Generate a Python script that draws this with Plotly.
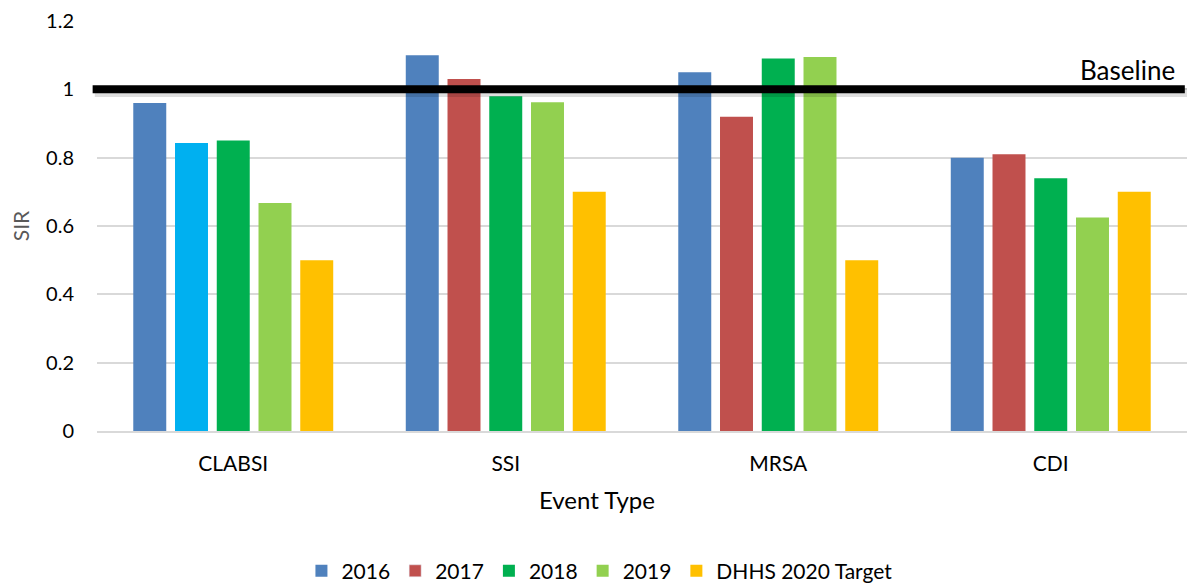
import plotly.graph_objects as go

categories = ["CLABSI", "SSI", "MRSA", "CDI"]
series_names = ["2016", "2017", "2018", "2019", "DHHS 2020 Target"]
v2016 = [0.96, 1.10, 1.05, 0.80]
v2017 = [0.843, 1.03, 0.92, 0.81]
v2018 = [0.85, 0.98, 1.09, 0.74]
v2019 = [0.667, 0.962, 1.095, 0.625]
vtarget = [0.50, 0.70, 0.50, 0.70]
baseline_value = 1.0
y_ticks = [0, 0.2, 0.4, 0.6, 0.8, 1, 1.2]
y_tick_text = ["0", "0.2", "0.4", "0.6", "0.8", "1", "1.2"]

colors = ["#4F81BD", "#C0504D", "#00B050", "#92D050", "#FFC000"]
colors_2017 = ["#00B0F0", "#C0504D", "#C0504D", "#C0504D"]

FONT = "Lato, Carlito, 'Open Sans', sans-serif"

fig = go.Figure()
all_vals = [v2016, v2017, v2018, v2019, vtarget]
for i, (name, vals) in enumerate(zip(series_names, all_vals)):
    mc = colors_2017 if name == "2017" else colors[i]
    fig.add_trace(go.Bar(
        x=categories, y=vals, name=name, offsetgroup=str(i),
        marker=dict(color=mc, line=dict(width=0)),
        showlegend=(name != "2017"), legendrank=i + 1,
    ))
# legend entry for 2017 in its regular red colour (shares the 2017 slot)
fig.add_trace(go.Bar(x=[categories[0]], y=[None], name="2017", offsetgroup="1",
                     marker=dict(color=colors[1]), legendrank=2, showlegend=True))

# baseline shadow + line
fig.add_shape(type="line", xref="paper", yref="y", x0=-0.002, x1=1.0,
              y0=baseline_value - 0.009, y1=baseline_value - 0.009,
              line=dict(color="rgba(0,0,0,0.13)", width=9))
fig.add_shape(type="line", xref="paper", yref="y", x0=-0.004, x1=0.998,
              y0=baseline_value, y1=baseline_value,
              line=dict(color="black", width=8))
fig.add_annotation(x=0.991, y=baseline_value, xref="paper", yref="y",
                   text="Baseline", showarrow=False, xanchor="right", yanchor="bottom",
                   yshift=1, font=dict(family=FONT, size=26, color="black"))
fig.add_annotation(x=0.459, y=-0.168, xref="paper", yref="paper",
                   text="Event Type", showarrow=False, xanchor="center", yanchor="middle",
                   font=dict(family=FONT, size=24, color="black"))

fig.update_layout(
    width=1187, height=584,
    margin=dict(l=97, r=0, t=21, b=153),
    paper_bgcolor="white", plot_bgcolor="white",
    barmode="group", bargap=0.234, bargroupgap=0.21,
    font=dict(family=FONT, color="black"),
    showlegend=True,
    legend=dict(orientation="h", xref="container", yref="container",
                x=0.505, y=0.022, xanchor="center", yanchor="middle",
                font=dict(size=21, family=FONT), traceorder="normal",
                itemwidth=30),
    xaxis=dict(
        showgrid=False, showline=True, linecolor="#D9D9D9", linewidth=1.5,
        tickfont=dict(size=21, family=FONT), ticks="", ticklabelstandoff=13,
    ),
    yaxis=dict(
        range=[0, 1.2], tickvals=y_ticks, ticktext=y_tick_text,
        showgrid=True, gridcolor="#D9D9D9", gridwidth=1.5,
        zeroline=False, showline=False,
        tickfont=dict(size=20, family=FONT), ticklabelstandoff=22,
        title=dict(text="SIR", font=dict(size=21, family=FONT, color="#595959"), standoff=10),
    ),
)

fig.write_html("out.html", config={"displayModeBar": False},
               post_script="document.body.style.margin='0';document.body.style.padding='0';")
